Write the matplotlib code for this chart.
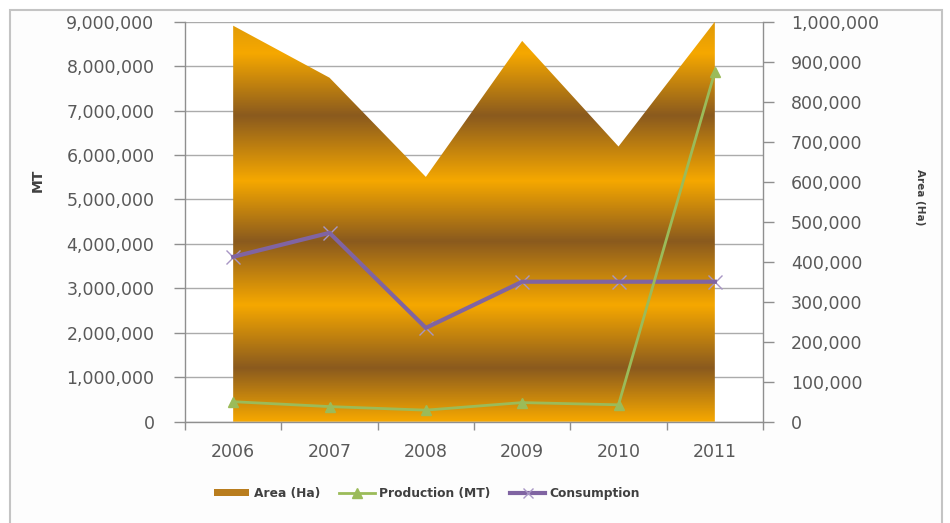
import matplotlib
matplotlib.use("Agg")
import matplotlib.pyplot as plt
import numpy as np
from matplotlib.colors import LinearSegmentedColormap
from matplotlib.patches import Patch, Rectangle
from matplotlib.lines import Line2D
from matplotlib.ticker import FuncFormatter, FixedLocator

# ---- data ----
years = ["2006", "2007", "2008", "2009", "2010", "2011"]
area_ha = [990000, 860000, 612000, 952000, 688000, 1000000]
production_mt = [450000, 340000, 260000, 430000, 380000, 7870000]
consumption_mt = [3710000, 4250000, 2110000, 3150000, 3150000, 3150000]

left_ticks = list(range(0, 9000001, 1000000))
right_ticks = list(range(0, 1000001, 100000))
LEFT_MAX = 9000000
RIGHT_MAX = 1000000

# ---- style ----
grid_col = "#ABABAB"
axis_col = "#8F8F8F"
label_col = "#595959"
green = "#9BBB59"
purple = "#8064A2"
tick_size = 12.5

fig = plt.figure(figsize=(9.5, 5.23), dpi=100)
fig.patch.set_facecolor("white")

# chart frame
fig.patches.append(Rectangle((10 / 950, -0.02), 932 / 950, 1 - 10 / 523 + 0.02,
                             transform=fig.transFigure, facecolor="#FDFDFD",
                             edgecolor="#C4C4C4", linewidth=1.5, zorder=-10))

ax_l = 185 / 950
ax_r = 763 / 950
ax_b = 1 - 421.7 / 523
ax_t = 1 - 21.7 / 523
ax = fig.add_axes([ax_l, ax_b, ax_r - ax_l, ax_t - ax_b])
ax2 = ax.twinx()

# lines above the area: raise the primary axes
ax2.set_zorder(1)
ax.set_zorder(2)
ax.patch.set_visible(False)
ax2.patch.set_visible(True)
ax2.patch.set_facecolor("white")

x = np.arange(len(years))

# ---- gridlines of the MT axis, drawn beneath the area ----
for v in left_ticks:
    ax2.axhline(v * RIGHT_MAX / LEFT_MAX, color=grid_col, linewidth=1.0, zorder=0.5)

# ---- area (secondary axis) with banded gold gradient ----
poly = ax2.fill_between(x, 0, area_ha, facecolor="none", edgecolor="none")
bright = "#F6A800"
dark = "#8A5A1E"
stops = [
    (0.00, bright), (0.134, dark), (0.292, bright), (0.452, dark),
    (0.604, bright), (0.767, dark), (0.924, bright), (1.00, "#E09A08"),
]
gold = LinearSegmentedColormap.from_list("gold_bands", stops)
grad = np.linspace(0, 1, 512).reshape(-1, 1)
im = ax2.imshow(grad, cmap=gold, origin="lower", aspect="auto",
                extent=(-0.5, len(years) - 0.5, 0, RIGHT_MAX),
                interpolation="bilinear", zorder=1)
im.set_clip_path(poly.get_paths()[0], ax2.transData)
ax2.set_xlim(-0.5, len(years) - 0.5)
ax2.set_ylim(0, RIGHT_MAX)

ax2.yaxis.set_major_locator(FixedLocator(right_ticks))
ax2.yaxis.set_major_formatter(FuncFormatter(lambda v, p: f"{int(v):,}"))
ax2.tick_params(axis="y", direction="out", length=8, width=1, color=axis_col,
                labelcolor=label_col, labelsize=tick_size, pad=12)

# ---- lines (primary axis) ----
ax.set_xlim(-0.5, len(years) - 0.5)
ax.set_ylim(0, LEFT_MAX)
ax.plot(x, consumption_mt, linestyle="none", marker="x", markersize=10,
        markeredgewidth=1.0, markeredgecolor="#A896C4", zorder=2.5)
ax.plot(x, consumption_mt, color=purple, linewidth=3.0,
        solid_joinstyle="miter", zorder=3)
ax.plot(x, production_mt, color=green, linewidth=2.0, marker="^",
        markersize=6.5, markeredgecolor=green, markerfacecolor=green, zorder=4)

ax.yaxis.set_major_locator(FixedLocator(left_ticks))
ax.yaxis.set_major_formatter(FuncFormatter(lambda v, p: f"{int(v):,}"))
ax.tick_params(axis="y", direction="out", length=8, width=1, color=axis_col,
               labelcolor=label_col, labelsize=tick_size, pad=14)

ax.set_xticks(x)
ax.set_xticklabels(years)
ax.set_xticks(np.arange(-0.5, len(years)), minor=True)
ax.tick_params(axis="x", which="major", length=0, labelcolor=label_col,
               labelsize=tick_size, pad=15)
ax.tick_params(axis="x", which="minor", direction="out", length=6, width=1,
               color=axis_col)

for s in ["top", "right"]:
    ax.spines[s].set_visible(False)
for s in ["left", "bottom"]:
    ax.spines[s].set_color(axis_col)
    ax.spines[s].set_linewidth(1.0)
for s in ["top", "left", "bottom"]:
    ax2.spines[s].set_visible(False)
ax2.spines["right"].set_color(axis_col)
ax2.spines["right"].set_linewidth(1.0)

# ---- axis titles ----
fig.text(38 / 950, 1 - 180 / 523, "MT", rotation=90, fontsize=10,
         fontweight="bold", color="#404040", ha="center", va="center")
fig.text(920 / 950, 1 - 197 / 523, "Area (Ha)", rotation=270, fontsize=7.5,
         fontweight="bold", color="#404040", ha="center", va="center")

# ---- legend ----
handles = [
    Patch(facecolor="#B97D1E", edgecolor="none"),
    Line2D([], [], color=green, linewidth=2.0, marker="^", markersize=6.5),
    Line2D([], [], color=purple, linewidth=3.0, marker="x", markersize=7,
           markeredgewidth=1.0, markeredgecolor="#A896C4"),
]
labels = ["Area (Ha)", "Production (MT)", "Consumption"]
leg = fig.legend(handles, labels, loc="center", bbox_to_anchor=(427 / 950, 30 / 523),
                 ncol=3, frameon=False, handlelength=2.9, handleheight=0.5,
                 handletextpad=0.35, columnspacing=1.6,
                 prop={"size": 8.8, "weight": "bold"})
for t in leg.get_texts():
    t.set_color("#404040")

fig.savefig("out.png", dpi=100, facecolor=fig.get_facecolor())
